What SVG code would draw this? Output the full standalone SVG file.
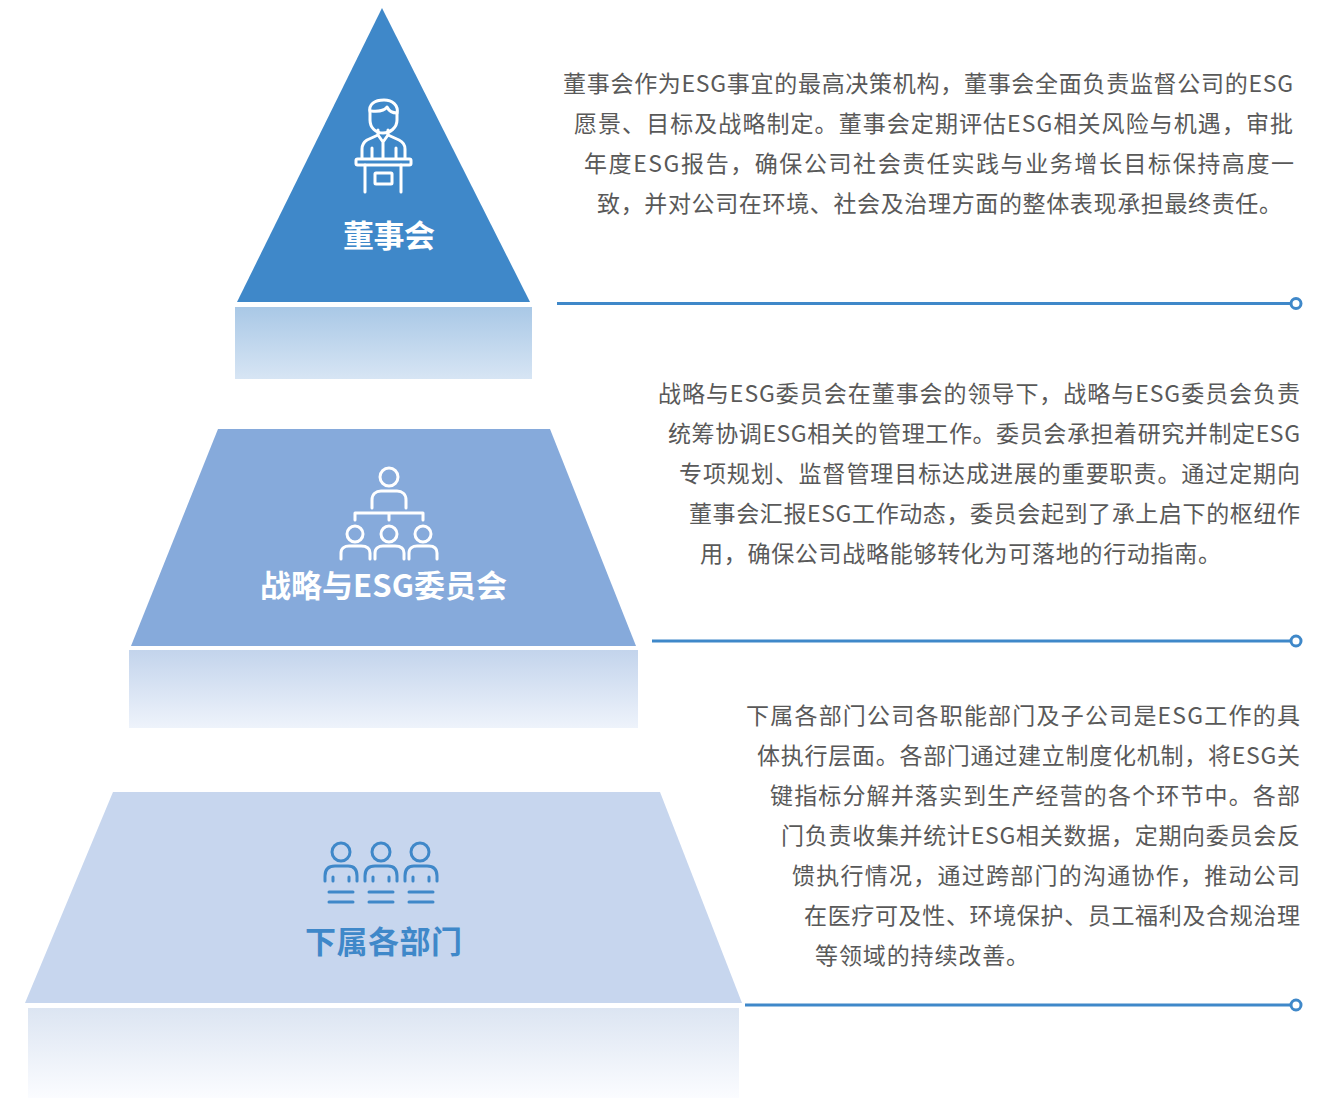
<svg xmlns="http://www.w3.org/2000/svg" width="1332" height="1098" viewBox="0 0 1332 1098">
<defs>
<style>
.b{font-family:"Noto Sans CJK SC","Noto Sans",sans-serif;font-size:23px;fill:#595959}
.t{font-family:"Noto Sans CJK SC","Noto Sans",sans-serif;font-size:31px;font-weight:700;text-anchor:middle}
.w{fill:#fff}.bl{fill:#3f88c9}
.iw{fill:none;stroke:#fff;stroke-width:3;stroke-linecap:round;stroke-linejoin:round}
.ib{fill:none;stroke:#3f88c9;stroke-width:3;stroke-linecap:round;stroke-linejoin:round}
.c{fill:none;stroke:#3f88c9;stroke-width:3}
.e{fill:#fff;stroke:#3f88c9;stroke-width:3}
</style>
<linearGradient id="g1" x1="0" y1="0" x2="0" y2="1"><stop offset="0" stop-color="#a9c8e6"/><stop offset="1" stop-color="#d7e5f4"/></linearGradient>
<linearGradient id="g2" x1="0" y1="0" x2="0" y2="1"><stop offset="0" stop-color="#c3d4ec"/><stop offset="1" stop-color="#eef3fb"/></linearGradient>
<linearGradient id="g3" x1="0" y1="0" x2="0" y2="1"><stop offset="0" stop-color="#dce5f2"/><stop offset="1" stop-color="#fbfcff"/></linearGradient>
</defs>
<rect width="1332" height="1098" fill="#fff"/>
<g id="node-board">
<polygon points="382,8 530,302 237,302" fill="#3f88c9"/>
<rect x="235" y="307" width="297" height="72" fill="url(#g1)"/>
<g class="iw">
<path d="M370,113 C368,104 375,100 384,100 C392,100 399,105 397,114 L397,120 C397,128 390,133 383,133 C376,133 370,128 370,120 Z"/>
<path d="M371,111 C379,112 385,110 387,107 C389,111 393,113 397,113"/>
<path d="M378,130 L378,135 L367,140 C364,142 362,145 362,149 L362,158"/>
<path d="M388,130 L388,135 L399,140 C403,142 405,145 405,149 L405,158"/>
<path d="M378,135 L383,142 L388,135 M383,142 L383,158 M372,148 L372,158 M396,148 L396,158"/>
<rect x="356" y="159" width="55" height="6" rx="1.500"/>
<path d="M365,165 L365,192 M401,165 L401,192"/>
<rect x="375" y="173" width="17" height="11" rx="1"/>
</g>
<text class="t w" x="389" y="247" textLength="92">董事会</text>
</g>
<g id="node-committee">
<polygon points="218,429 550,429 636,646 131,646" fill="#86aadb"/>
<rect x="129" y="650" width="509" height="78" fill="url(#g2)"/>
<g class="iw">
<circle cx="389" cy="477" r="9"/>
<path d="M372,508 L372,500 C372,494 376,491 381,491 L397,491 C402,491 406,494 406,500 L406,508"/>
<path d="M355,520 L355,513 L423,513 L423,520 M389,513 L389,520"/>
<circle cx="355" cy="534" r="8"/><circle cx="389" cy="534" r="8"/><circle cx="423" cy="534" r="8"/>
<path d="M341,559 L341,553 C341,548 345,546 349,546 L361,546 C366,546 370,548 370,553 L370,559"/>
<path d="M375,559 L375,553 C375,548 379,546 383,546 L395,546 C400,546 404,548 404,553 L404,559"/>
<path d="M409,559 L409,553 C409,548 413,546 417,546 L429,546 C434,546 437,548 437,553 L437,559"/>
</g>
<text class="t w" x="383.500" y="597" textLength="247">战略与ESG委员会</text>
</g>
<g id="node-departments">
<polygon points="113,792 660,792 742,1003 25,1003" fill="#c7d6ee"/>
<rect x="28" y="1008" width="711" height="90" fill="url(#g3)"/>
<g class="ib">
<circle cx="341" cy="852" r="9"/><circle cx="381" cy="852" r="9"/><circle cx="420" cy="852" r="9"/>
<path d="M325,881 L325,876 C325,869 329,866 335,866 L348,866 C354,866 357,869 357,876 L357,881 M333,877 L333,881 M349,877 L349,881 M329,892 L353,892 M329,902 L353,902"/>
<path d="M365,881 L365,876 C365,869 369,866 375,866 L388,866 C394,866 397,869 397,876 L397,881 M373,877 L373,881 M389,877 L389,881 M369,892 L393,892 M369,902 L393,902"/>
<path d="M405,881 L405,876 C405,869 408,866 414,866 L427,866 C433,866 437,869 437,876 L437,881 M413,877 L413,881 M429,877 L429,881 M409,892 L433,892 M409,902 L433,902"/>
</g>
<text class="t bl" x="383.500" y="953" textLength="157">下属各部门</text>
</g>
<g id="connectors">
<path class="c" d="M557,303.500 L1290,303.500"/><circle class="e" cx="1296" cy="303.500" r="5"/>
<path class="c" d="M652,641 L1290,641"/><circle class="e" cx="1296" cy="641" r="5"/>
<path class="c" d="M745,1005 L1290,1005"/><circle class="e" cx="1296" cy="1005" r="5"/>
</g>
<g id="text-board">
<text class="b" x="563" y="92" textLength="730">董事会作为ESG事宜的最高决策机构，董事会全面负责监督公司的ESG</text>
<text class="b" x="574" y="132" textLength="719">愿景、目标及战略制定。董事会定期评估ESG相关风险与机遇，审批</text>
<text class="b" x="584" y="172" textLength="710">年度ESG报告，确保公司社会责任实践与业务增长目标保持高度一</text>
<text class="b" x="597" y="212" textLength="685">致，并对公司在环境、社会及治理方面的整体表现承担最终责任。</text>
</g>
<g id="text-committee">
<text class="b" x="658" y="402" textLength="642">战略与ESG委员会在董事会的领导下，战略与ESG委员会负责</text>
<text class="b" x="668" y="442" textLength="632">统筹协调ESG相关的管理工作。委员会承担着研究并制定ESG</text>
<text class="b" x="679" y="482" textLength="621">专项规划、监督管理目标达成进展的重要职责。通过定期向</text>
<text class="b" x="689" y="522" textLength="611">董事会汇报ESG工作动态，委员会起到了承上启下的枢纽作</text>
<text class="b" x="700" y="562" textLength="521">用，确保公司战略能够转化为可落地的行动指南。</text>
</g>
<g id="text-departments">
<text class="b" x="746" y="724" textLength="554">下属各部门公司各职能部门及子公司是ESG工作的具</text>
<text class="b" x="757" y="764" textLength="543">体执行层面。各部门通过建立制度化机制，将ESG关</text>
<text class="b" x="770" y="804" textLength="530">键指标分解并落实到生产经营的各个环节中。各部</text>
<text class="b" x="781" y="844" textLength="519">门负责收集并统计ESG相关数据，定期向委员会反</text>
<text class="b" x="792" y="884" textLength="508">馈执行情况，通过跨部门的沟通协作，推动公司</text>
<text class="b" x="804" y="924" textLength="496">在医疗可及性、环境保护、员工福利及合规治理</text>
<text class="b" x="815" y="964" textLength="214">等领域的持续改善。</text>
</g>
</svg>
